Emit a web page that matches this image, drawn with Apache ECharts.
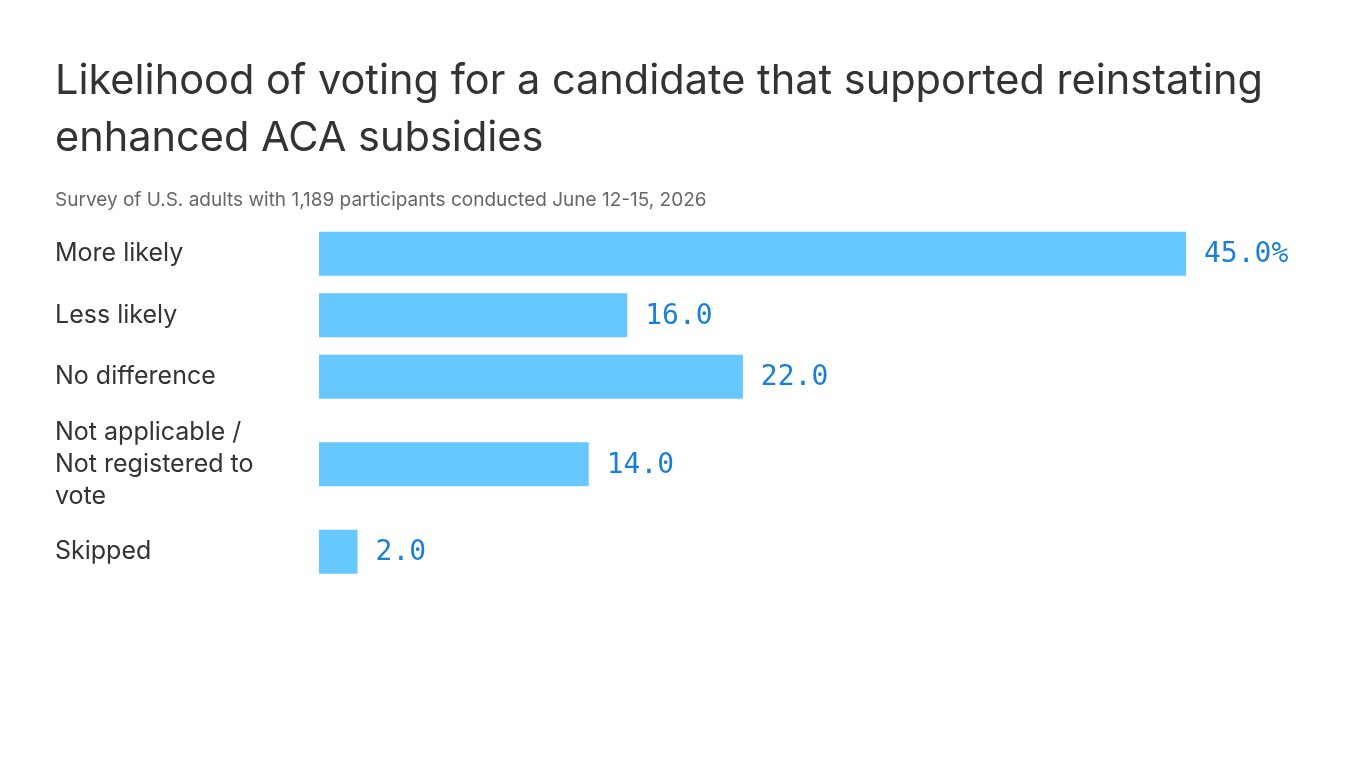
<!DOCTYPE html>
<html>
<head>
<meta charset="utf-8">
<script src="https://cdn.jsdelivr.net/npm/echarts@6/dist/echarts.min.js"></script>
<style>
  html, body { margin: 0; padding: 0; background: #fff; }
  #chart { width: 1366px; height: 768px; }
</style>
</head>
<body>
<div id="chart"></div>
<script>
var categories = ['More likely', 'Less likely', 'No difference', 'Not applicable / Not registered to vote', 'Skipped'];
var values = [45.0, 16.0, 22.0, 14.0, 2.0];

var FONT = 'Inter, "Noto Sans", sans-serif';
var MONO = '"DejaVu Sans Mono", "Liberation Mono", monospace';
var labelWidth = 215;
var lineH = 32;
var barH = 44;
var rowGap = 17.5;

// wrap the category names to the label column width
var ctx = document.createElement('canvas').getContext('2d');
ctx.font = '25px ' + FONT;
function wrap(text) {
  var words = text.split(' '), lines = [], cur = '';
  words.forEach(function (w) {
    var t = cur ? cur + ' ' + w : w;
    if (cur && ctx.measureText(t).width > labelWidth) { lines.push(cur); cur = w; }
    else cur = t;
  });
  lines.push(cur);
  return lines;
}

// row centres, in pixels, from the label heights
var rows = [];
var acc = 0;
categories.forEach(function (c, i) {
  var lines = wrap(c);
  var h = Math.max(barH, lines.length * lineH) + rowGap;
  rows.push([values[i], acc + h / 2, lines.join('\n'), i]);
  acc += h;
});
var total = acc;

var myChart = echarts.init(document.getElementById('chart'));
var option = {
  animation: false,
  title: [
    {
      text: 'Likelihood of voting for a candidate that supported reinstating\nenhanced ACA subsidies',
      left: 55, top: 53, padding: 0,
      textStyle: { fontFamily: FONT, fontSize: 41.5, fontWeight: 'normal', color: '#333', lineHeight: 57 }
    },
    {
      text: 'Survey of U.S. adults with 1,189 participants conducted June 12-15, 2026',
      left: 55, top: 191, padding: 0,
      textStyle: { fontFamily: FONT, fontSize: 19, fontWeight: 'normal', color: '#666' }
    }
  ],
  grid: { left: 319, right: 180, top: 223, height: total },
  xAxis: { type: 'value', min: 0, max: 'dataMax', show: false },
  yAxis: { type: 'value', min: 0, max: total, inverse: true, show: false },
  series: [{
    type: 'custom',
    data: rows,
    encode: { x: 0, y: 1 },
    renderItem: function (params, api) {
      var v = api.value(0), y = api.value(1);
      var p0 = api.coord([0, y]);
      var p1 = api.coord([v, y]);
      var d = rows[params.dataIndex];
      var txt = d[3] === 0 ? v.toFixed(1) + '%' : v.toFixed(1);
      return {
        type: 'group',
        children: [
          {
            type: 'rect',
            shape: { x: p0[0], y: p0[1] - barH / 2, width: p1[0] - p0[0], height: barH },
            style: { fill: '#66c8ff' }
          },
          {
            type: 'text',
            x: p1[0] + 18, y: p1[1] + 1,
            style: { text: txt, fill: '#1a7fd8', font: '28px ' + MONO, verticalAlign: 'middle' }
          },
          {
            type: 'text',
            x: 55, y: p0[1],
            style: { text: d[2], fill: '#333', font: '25px ' + FONT, lineHeight: lineH, verticalAlign: 'middle' }
          }
        ]
      };
    }
  }]
};
myChart.setOption(option);
window.addEventListener('resize', function () { myChart.resize(); });
</script>
</body>
</html>
